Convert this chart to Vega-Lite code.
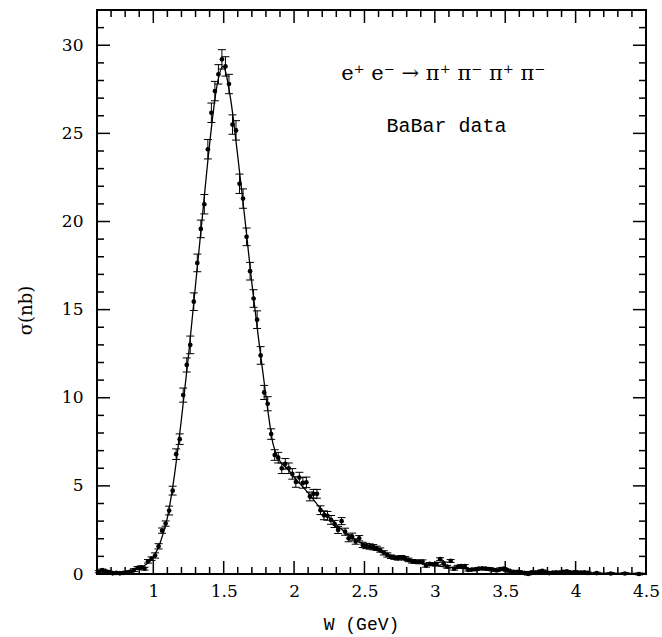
{
  "$schema": "https://vega.github.io/schema/vega-lite/v6.json",
  "autosize": "none",
  "width": 549,
  "height": 564,
  "padding": {"left": 97, "top": 10, "right": 16, "bottom": 63},
  "background": "white",
  "config": {
    "view": {"stroke": "black", "strokeWidth": 2},
    "axis": {"grid": false, "domain": false, "labelColor": "black", "titleColor": "black", "labelFont": "DejaVu Serif", "labelFontSize": 17, "labelFlush": false, "labelOverlap": false, "titleFontWeight": "normal"}
  },
  "datasets": {
    "pts": [
      {"W":0.6125,"s":0.13,"lo":0.07,"hi":0.19},{"W":0.6375,"s":0.22,"lo":0.16,"hi":0.28},{"W":0.6625,"s":0.15,"lo":0.09,"hi":0.21},{"W":0.6875,"s":0.10,"lo":0.04,"hi":0.16},{"W":0.7125,"s":0.04,"lo":-0.02,"hi":0.10},{"W":0.7375,"s":0.06,"lo":0.0,"hi":0.12},{"W":0.7625,"s":0.04,"lo":-0.02,"hi":0.10},{"W":0.7875,"s":0.06,"lo":0.0,"hi":0.12},{"W":0.8125,"s":0.08,"lo":0.02,"hi":0.14},{"W":0.8375,"s":0.13,"lo":0.07,"hi":0.19},{"W":0.8625,"s":0.22,"lo":0.14,"hi":0.30},{"W":0.8875,"s":0.34,"lo":0.26,"hi":0.42},{"W":0.9125,"s":0.38,"lo":0.30,"hi":0.46},{"W":0.9375,"s":0.30,"lo":0.22,"hi":0.38},{"W":0.9625,"s":0.72,"lo":0.62,"hi":0.82},{"W":0.9875,"s":0.87,"lo":0.77,"hi":0.97},
      {"W":1.0125,"s":1.05,"lo":0.90,"hi":1.20},{"W":1.0375,"s":1.57,"lo":1.42,"hi":1.72},{"W":1.0625,"s":2.46,"lo":2.31,"hi":2.61},{"W":1.0875,"s":2.86,"lo":2.71,"hi":3.01},{"W":1.1125,"s":3.6,"lo":3.35,"hi":3.85},{"W":1.1375,"s":4.73,"lo":4.48,"hi":4.98},{"W":1.1625,"s":6.8,"lo":6.5,"hi":7.1},{"W":1.1875,"s":7.65,"lo":7.35,"hi":7.95},{"W":1.2125,"s":10.15,"lo":9.75,"hi":10.55},{"W":1.2375,"s":11.86,"lo":11.46,"hi":12.26},{"W":1.2625,"s":13.0,"lo":12.5,"hi":13.5},{"W":1.2875,"s":15.45,"lo":14.95,"hi":15.95},{"W":1.3125,"s":17.65,"lo":17.15,"hi":18.15},{"W":1.3375,"s":19.58,"lo":19.08,"hi":20.08},{"W":1.3625,"s":20.98,"lo":20.43,"hi":21.53},{"W":1.3875,"s":24.1,"lo":23.55,"hi":24.65},{"W":1.4125,"s":26.17,"lo":25.62,"hi":26.72},{"W":1.4375,"s":27.4,"lo":26.85,"hi":27.95},{"W":1.4625,"s":28.35,"lo":27.8,"hi":28.9},{"W":1.4875,"s":29.2,"lo":28.65,"hi":29.75},
      {"W":1.5125,"s":28.8,"lo":28.25,"hi":29.35},{"W":1.5375,"s":27.8,"lo":27.25,"hi":28.35},{"W":1.5625,"s":25.5,"lo":24.95,"hi":26.05},{"W":1.5875,"s":25.17,"lo":24.62,"hi":25.72},{"W":1.6125,"s":22.14,"lo":21.59,"hi":22.69},{"W":1.6375,"s":21.3,"lo":20.75,"hi":21.85},{"W":1.6625,"s":19.13,"lo":18.63,"hi":19.63},{"W":1.6875,"s":17.18,"lo":16.68,"hi":17.68},{"W":1.7125,"s":15.63,"lo":15.13,"hi":16.13},{"W":1.7375,"s":14.43,"lo":13.93,"hi":14.93},{"W":1.7625,"s":12.4,"lo":11.9,"hi":12.9},{"W":1.7875,"s":10.3,"lo":9.9,"hi":10.7},{"W":1.8125,"s":9.66,"lo":9.26,"hi":10.06},{"W":1.8375,"s":7.94,"lo":7.64,"hi":8.24},{"W":1.8625,"s":6.75,"lo":6.45,"hi":7.05},{"W":1.8875,"s":6.6,"lo":6.3,"hi":6.9},{"W":1.9125,"s":6.0,"lo":5.7,"hi":6.3},{"W":1.9375,"s":6.25,"lo":5.95,"hi":6.55},{"W":1.9625,"s":6.0,"lo":5.7,"hi":6.3},{"W":1.9875,"s":5.68,"lo":5.38,"hi":5.98},
      {"W":2.0125,"s":5.22,"lo":4.92,"hi":5.52},{"W":2.0375,"s":5.47,"lo":5.17,"hi":5.77},{"W":2.0625,"s":5.17,"lo":4.87,"hi":5.47},{"W":2.0875,"s":5.2,"lo":4.9,"hi":5.5},{"W":2.1125,"s":4.4,"lo":4.15,"hi":4.65},{"W":2.1375,"s":4.55,"lo":4.3,"hi":4.8},{"W":2.1625,"s":4.55,"lo":4.3,"hi":4.8},{"W":2.1875,"s":3.62,"lo":3.37,"hi":3.87},{"W":2.2125,"s":3.33,"lo":3.08,"hi":3.58},{"W":2.2375,"s":3.3,"lo":3.05,"hi":3.55},{"W":2.2625,"s":3.07,"lo":2.82,"hi":3.32},{"W":2.2875,"s":2.84,"lo":2.64,"hi":3.04},{"W":2.3125,"s":2.5,"lo":2.3,"hi":2.7},{"W":2.3375,"s":3.0,"lo":2.8,"hi":3.2},{"W":2.3625,"s":2.4,"lo":2.2,"hi":2.6},{"W":2.3875,"s":2.03,"lo":1.83,"hi":2.23},{"W":2.4125,"s":2.12,"lo":1.92,"hi":2.32},{"W":2.4375,"s":1.84,"lo":1.69,"hi":1.99},{"W":2.4625,"s":2.03,"lo":1.88,"hi":2.18},{"W":2.4875,"s":1.65,"lo":1.5,"hi":1.8},
      {"W":2.5125,"s":1.59,"lo":1.44,"hi":1.74},{"W":2.5375,"s":1.56,"lo":1.41,"hi":1.71},{"W":2.5625,"s":1.52,"lo":1.37,"hi":1.67},{"W":2.5875,"s":1.46,"lo":1.34,"hi":1.58},{"W":2.6125,"s":1.36,"lo":1.24,"hi":1.48},{"W":2.6375,"s":1.2,"lo":1.08,"hi":1.32},{"W":2.6625,"s":1.08,"lo":0.96,"hi":1.2},{"W":2.6875,"s":0.98,"lo":0.88,"hi":1.08},{"W":2.7125,"s":0.93,"lo":0.83,"hi":1.03},{"W":2.7375,"s":0.89,"lo":0.79,"hi":0.99},{"W":2.7625,"s":0.95,"lo":0.85,"hi":1.05},{"W":2.7875,"s":0.89,"lo":0.79,"hi":0.99},{"W":2.8125,"s":0.8,"lo":0.7,"hi":0.9},{"W":2.8375,"s":0.72,"lo":0.62,"hi":0.82},{"W":2.8625,"s":0.7,"lo":0.6,"hi":0.8},{"W":2.8875,"s":0.68,"lo":0.58,"hi":0.78},{"W":2.9125,"s":0.7,"lo":0.6,"hi":0.8},{"W":2.9375,"s":0.47,"lo":0.39,"hi":0.55},{"W":2.9625,"s":0.57,"lo":0.49,"hi":0.65},{"W":2.9875,"s":0.55,"lo":0.47,"hi":0.63},
      {"W":3.0125,"s":0.57,"lo":0.49,"hi":0.65},{"W":3.0375,"s":0.84,"lo":0.76,"hi":0.92},{"W":3.0625,"s":0.6,"lo":0.52,"hi":0.68},{"W":3.0875,"s":0.41,"lo":0.33,"hi":0.49},{"W":3.1125,"s":0.74,"lo":0.66,"hi":0.82},{"W":3.1375,"s":0.3,"lo":0.22,"hi":0.38},{"W":3.1625,"s":0.41,"lo":0.33,"hi":0.49},{"W":3.1875,"s":0.45,"lo":0.37,"hi":0.53},{"W":3.2125,"s":0.45,"lo":0.37,"hi":0.53},{"W":3.2375,"s":0.23,"lo":0.17,"hi":0.29},{"W":3.2625,"s":0.25,"lo":0.19,"hi":0.31},{"W":3.2875,"s":0.27,"lo":0.21,"hi":0.33},{"W":3.3125,"s":0.3,"lo":0.24,"hi":0.36},{"W":3.3375,"s":0.32,"lo":0.26,"hi":0.38},{"W":3.3625,"s":0.3,"lo":0.24,"hi":0.36},{"W":3.3875,"s":0.28,"lo":0.22,"hi":0.34},{"W":3.4125,"s":0.25,"lo":0.19,"hi":0.31},{"W":3.4375,"s":0.2,"lo":0.14,"hi":0.26},{"W":3.4625,"s":0.28,"lo":0.22,"hi":0.34},{"W":3.4875,"s":0.3,"lo":0.24,"hi":0.36},
      {"W":3.5125,"s":0.22,"lo":0.16,"hi":0.28},{"W":3.5375,"s":0.15,"lo":0.1,"hi":0.2},{"W":3.5625,"s":0.12,"lo":0.07,"hi":0.17},{"W":3.5875,"s":0.12,"lo":0.07,"hi":0.17},{"W":3.6125,"s":0.1,"lo":0.05,"hi":0.15},{"W":3.6375,"s":0.05,"lo":0.0,"hi":0.1},{"W":3.6625,"s":0.0,"lo":-0.05,"hi":0.05},{"W":3.6875,"s":0.1,"lo":0.05,"hi":0.15},{"W":3.7125,"s":0.08,"lo":0.03,"hi":0.13},{"W":3.7375,"s":0.12,"lo":0.07,"hi":0.17},{"W":3.7625,"s":0.18,"lo":0.13,"hi":0.23},{"W":3.7875,"s":0.1,"lo":0.05,"hi":0.15},{"W":3.8125,"s":0.05,"lo":0.0,"hi":0.1},{"W":3.8375,"s":0.08,"lo":0.03,"hi":0.13},{"W":3.8625,"s":0.1,"lo":0.05,"hi":0.15},{"W":3.8875,"s":0.08,"lo":0.03,"hi":0.13},{"W":3.9125,"s":0.12,"lo":0.07,"hi":0.17},{"W":3.9375,"s":0.15,"lo":0.1,"hi":0.2},{"W":3.9625,"s":0.08,"lo":0.03,"hi":0.13},{"W":3.9875,"s":0.1,"lo":0.05,"hi":0.15},
      {"W":4.0125,"s":0.1,"lo":0.05,"hi":0.15},{"W":4.0375,"s":0.08,"lo":0.03,"hi":0.13},{"W":4.0625,"s":0.1,"lo":0.05,"hi":0.15},{"W":4.0875,"s":0.06,"lo":0.01,"hi":0.11},{"W":4.15,"s":0.05,"lo":0.0,"hi":0.1},{"W":4.25,"s":0.03,"lo":-0.02,"hi":0.08},{"W":4.35,"s":0.03,"lo":-0.02,"hi":0.08},{"W":4.45,"s":0.0,"lo":-0.05,"hi":0.05}
    ],
    "fit": [
      {"W":0.6,"s":0.02},{"W":0.7,"s":0.03},{"W":0.8,"s":0.1},{"W":0.9,"s":0.33},{"W":0.95,"s":0.55},{"W":1.0,"s":0.95},{"W":1.05,"s":1.8},{"W":1.1,"s":3.2},{"W":1.15,"s":5.6},{"W":1.2,"s":8.8},{"W":1.25,"s":12.4},{"W":1.3,"s":16.4},{"W":1.35,"s":20.4},{"W":1.4,"s":24.4},{"W":1.45,"s":27.6},{"W":1.495,"s":28.8},{"W":1.55,"s":26.9},{"W":1.6,"s":23.7},{"W":1.65,"s":20.2},{"W":1.7,"s":16.5},{"W":1.75,"s":13.2},{"W":1.8,"s":10.1},{"W":1.85,"s":7.4},{"W":1.9,"s":6.4},{"W":1.95,"s":6.0},{"W":2.0,"s":5.5},{"W":2.1,"s":4.6},{"W":2.2,"s":3.6},{"W":2.3,"s":2.8},{"W":2.4,"s":2.15},{"W":2.5,"s":1.65},{"W":2.6,"s":1.3},{"W":2.7,"s":1.0},{"W":2.8,"s":0.78},{"W":2.9,"s":0.6},{"W":3.0,"s":0.48},{"W":3.2,"s":0.32},{"W":3.4,"s":0.22},{"W":3.6,"s":0.15},{"W":3.8,"s":0.1},{"W":4.0,"s":0.07},{"W":4.2,"s":0.05},{"W":4.5,"s":0.03}
    ],
    "notes": [
      {"W": 3.06, "s": 28.35, "label": "e⁺  e⁻  →  π⁺  π⁻  π⁺  π⁻", "kind": "reaction"},
      {"W": 3.083, "s": 25.4, "label": "BaBar data", "kind": "source"}
    ],
    "xticks": [
      {"W":0.7,"kind":"minor"},{"W":0.8,"kind":"minor"},{"W":0.9,"kind":"minor"},{"W":1.0,"kind":"major"},{"W":1.1,"kind":"minor"},{"W":1.2,"kind":"minor"},{"W":1.3,"kind":"minor"},{"W":1.4,"kind":"minor"},{"W":1.5,"kind":"major"},{"W":1.6,"kind":"minor"},{"W":1.7,"kind":"minor"},{"W":1.8,"kind":"minor"},{"W":1.9,"kind":"minor"},{"W":2.0,"kind":"major"},{"W":2.1,"kind":"minor"},{"W":2.2,"kind":"minor"},{"W":2.3,"kind":"minor"},{"W":2.4,"kind":"minor"},{"W":2.5,"kind":"major"},{"W":2.6,"kind":"minor"},{"W":2.7,"kind":"minor"},{"W":2.8,"kind":"minor"},{"W":2.9,"kind":"minor"},{"W":3.0,"kind":"major"},{"W":3.1,"kind":"minor"},{"W":3.2,"kind":"minor"},{"W":3.3,"kind":"minor"},{"W":3.4,"kind":"minor"},{"W":3.5,"kind":"major"},{"W":3.6,"kind":"minor"},{"W":3.7,"kind":"minor"},{"W":3.8,"kind":"minor"},{"W":3.9,"kind":"minor"},{"W":4.0,"kind":"major"},{"W":4.1,"kind":"minor"},{"W":4.2,"kind":"minor"},{"W":4.3,"kind":"minor"},{"W":4.4,"kind":"minor"}
    ],
    "yticks": [
      {"s":1,"kind":"minor"},{"s":2,"kind":"minor"},{"s":3,"kind":"minor"},{"s":4,"kind":"minor"},{"s":5,"kind":"major"},{"s":6,"kind":"minor"},{"s":7,"kind":"minor"},{"s":8,"kind":"minor"},{"s":9,"kind":"minor"},{"s":10,"kind":"major"},{"s":11,"kind":"minor"},{"s":12,"kind":"minor"},{"s":13,"kind":"minor"},{"s":14,"kind":"minor"},{"s":15,"kind":"major"},{"s":16,"kind":"minor"},{"s":17,"kind":"minor"},{"s":18,"kind":"minor"},{"s":19,"kind":"minor"},{"s":20,"kind":"major"},{"s":21,"kind":"minor"},{"s":22,"kind":"minor"},{"s":23,"kind":"minor"},{"s":24,"kind":"minor"},{"s":25,"kind":"major"},{"s":26,"kind":"minor"},{"s":27,"kind":"minor"},{"s":28,"kind":"minor"},{"s":29,"kind":"minor"},{"s":30,"kind":"major"},{"s":31,"kind":"minor"}
    ]
  },
  "layer": [
    {
      "data": {"name": "fit"},
      "mark": {"type": "line", "color": "black", "strokeWidth": 1.3, "interpolate": "monotone"},
      "encoding": {
        "x": {"field": "W", "type": "quantitative", "scale": {"domain": [0.6, 4.5], "nice": false, "zero": false},
          "axis": {"orient": "bottom", "values": [1, 1.5, 2, 2.5, 3, 3.5, 4, 4.5], "format": "~g", "ticks": false,
            "labelPadding": 9, "title": "W (GeV)", "titleFont": "Liberation Mono", "titleFontSize": 18, "titleX": 264, "titleY": 50, "titleBaseline": "middle"}},
        "y": {"field": "s", "type": "quantitative", "scale": {"domain": [0, 32], "nice": false},
          "axis": {"orient": "left", "values": [0, 5, 10, 15, 20, 25, 30], "ticks": false,
            "labelPadding": 14, "labelBaseline": "middle", "title": "σ(nb)", "titleFont": "DejaVu Serif", "titleFontSize": 18, "titleX": -71, "titleY": 300, "titleAngle": -90, "titleBaseline": "middle", "titleAlign": "center"}}
      }
    },
    {
      "data": {"name": "pts"},
      "mark": {"type": "rule", "color": "black", "strokeWidth": 1},
      "encoding": {
        "x": {"field": "W", "type": "quantitative"},
        "y": {"field": "lo", "type": "quantitative"},
        "y2": {"field": "hi"}
      }
    },
    {
      "data": {"name": "pts"},
      "mark": {"type": "rule", "color": "black", "strokeWidth": 1, "xOffset": -4, "x2Offset": 4},
      "encoding": {
        "x": {"field": "W", "type": "quantitative"},
        "x2": {"field": "W"},
        "y": {"field": "lo", "type": "quantitative"}
      }
    },
    {
      "data": {"name": "pts"},
      "mark": {"type": "rule", "color": "black", "strokeWidth": 1, "xOffset": -4, "x2Offset": 4},
      "encoding": {
        "x": {"field": "W", "type": "quantitative"},
        "x2": {"field": "W"},
        "y": {"field": "hi", "type": "quantitative"}
      }
    },
    {
      "data": {"name": "pts"},
      "mark": {"type": "circle", "color": "black", "size": 22, "opacity": 1},
      "encoding": {
        "x": {"field": "W", "type": "quantitative"},
        "y": {"field": "s", "type": "quantitative"}
      }
    },
    {
      "data": {"name": "xticks"},
      "transform": [{"filter": "datum.kind === 'major'"}],
      "mark": {"type": "rule", "color": "black", "strokeWidth": 1.5, "y2Offset": -13},
      "encoding": {
        "x": {"field": "W", "type": "quantitative"},
        "y": {"datum": 0, "type": "quantitative"},
        "y2": {"datum": 0}
      }
    },
    {
      "data": {"name": "xticks"},
      "transform": [{"filter": "datum.kind === 'minor'"}],
      "mark": {"type": "rule", "color": "black", "strokeWidth": 1.5, "y2Offset": -7},
      "encoding": {
        "x": {"field": "W", "type": "quantitative"},
        "y": {"datum": 0, "type": "quantitative"},
        "y2": {"datum": 0}
      }
    },
    {
      "data": {"name": "xticks"},
      "transform": [{"filter": "datum.kind === 'major'"}],
      "mark": {"type": "rule", "color": "black", "strokeWidth": 1.5, "y2Offset": 13},
      "encoding": {
        "x": {"field": "W", "type": "quantitative"},
        "y": {"datum": 32, "type": "quantitative"},
        "y2": {"datum": 32}
      }
    },
    {
      "data": {"name": "xticks"},
      "transform": [{"filter": "datum.kind === 'minor'"}],
      "mark": {"type": "rule", "color": "black", "strokeWidth": 1.5, "y2Offset": 7},
      "encoding": {
        "x": {"field": "W", "type": "quantitative"},
        "y": {"datum": 32, "type": "quantitative"},
        "y2": {"datum": 32}
      }
    },
    {
      "data": {"name": "yticks"},
      "transform": [{"filter": "datum.kind === 'major'"}],
      "mark": {"type": "rule", "color": "black", "strokeWidth": 1.5, "x2Offset": 13},
      "encoding": {
        "y": {"field": "s", "type": "quantitative"},
        "x": {"datum": 0.6, "type": "quantitative"},
        "x2": {"datum": 0.6}
      }
    },
    {
      "data": {"name": "yticks"},
      "transform": [{"filter": "datum.kind === 'minor'"}],
      "mark": {"type": "rule", "color": "black", "strokeWidth": 1.5, "x2Offset": 7},
      "encoding": {
        "y": {"field": "s", "type": "quantitative"},
        "x": {"datum": 0.6, "type": "quantitative"},
        "x2": {"datum": 0.6}
      }
    },
    {
      "data": {"name": "yticks"},
      "transform": [{"filter": "datum.kind === 'major'"}],
      "mark": {"type": "rule", "color": "black", "strokeWidth": 1.5, "x2Offset": -13},
      "encoding": {
        "y": {"field": "s", "type": "quantitative"},
        "x": {"datum": 4.5, "type": "quantitative"},
        "x2": {"datum": 4.5}
      }
    },
    {
      "data": {"name": "yticks"},
      "transform": [{"filter": "datum.kind === 'minor'"}],
      "mark": {"type": "rule", "color": "black", "strokeWidth": 1.5, "x2Offset": -7},
      "encoding": {
        "y": {"field": "s", "type": "quantitative"},
        "x": {"datum": 4.5, "type": "quantitative"},
        "x2": {"datum": 4.5}
      }
    },
    {
      "data": {"name": "notes"},
      "transform": [{"filter": "datum.kind === 'reaction'"}],
      "mark": {"type": "text", "font": "DejaVu Serif", "fontSize": 21, "color": "black", "align": "center", "baseline": "middle"},
      "encoding": {
        "x": {"field": "W", "type": "quantitative"},
        "y": {"field": "s", "type": "quantitative"},
        "text": {"field": "label"}
      }
    },
    {
      "data": {"name": "notes"},
      "transform": [{"filter": "datum.kind === 'source'"}],
      "mark": {"type": "text", "font": "Liberation Mono", "fontSize": 20, "color": "black", "align": "center", "baseline": "middle"},
      "encoding": {
        "x": {"field": "W", "type": "quantitative"},
        "y": {"field": "s", "type": "quantitative"},
        "text": {"field": "label"}
      }
    }
  ]
}
